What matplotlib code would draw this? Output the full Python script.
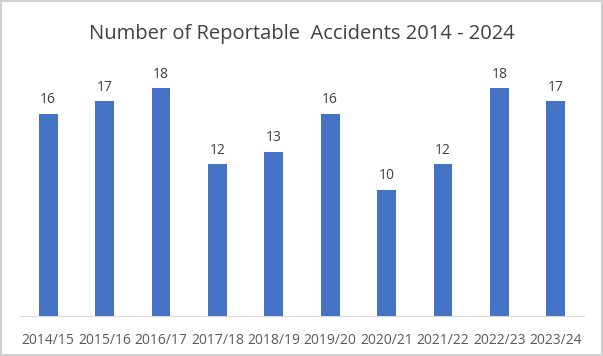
import matplotlib.pyplot as plt
from matplotlib.patches import Rectangle

years = ['2014/15', '2015/16', '2016/17', '2017/18', '2018/19',
         '2019/20', '2020/21', '2021/22', '2022/23', '2023/24']
accidents = [16, 17, 18, 12, 13, 16, 10, 12, 18, 17]

plt.rcParams['font.family'] = ['Open Sans', 'DejaVu Sans']

fig = plt.figure(figsize=(6.03, 3.56), dpi=100)
# axes in pixel terms: x 20..584, baseline y 316, top (20) y 63
ax = fig.add_axes([20 / 603, 1 - 316 / 356, 564 / 603, 253 / 356])

x = range(len(years))
bars = ax.bar(x, accidents, width=0.33, color='#4472C4')
for xi, v in zip(x, accidents):
    ax.text(xi, v + 0.5, str(v), ha='center', va='bottom',
            fontsize=10, color='#404040')

ax.set_xlim(-0.5, len(years) - 0.5)
ax.set_ylim(0, 20)
ax.set_xticks(list(x))
ax.set_xticklabels(years, fontsize=10, color='#595959')
ax.tick_params(axis='x', length=0, pad=12)
ax.set_yticks([])
for s in ['top', 'right', 'left']:
    ax.spines[s].set_visible(False)
ax.spines['bottom'].set_color('#D9D9D9')

fig.text(0.5, 1 - 34 / 356, 'Number of Reportable  Accidents 2014 - 2024',
         ha='center', va='center', fontsize=14.5, color='#404040')

fig.patches.append(Rectangle((0.002, 0.003), 0.996, 0.994, transform=fig.transFigure,
                             fill=False, edgecolor='#D0D0D0', linewidth=1.5))

fig.savefig('out.png', dpi=100)
